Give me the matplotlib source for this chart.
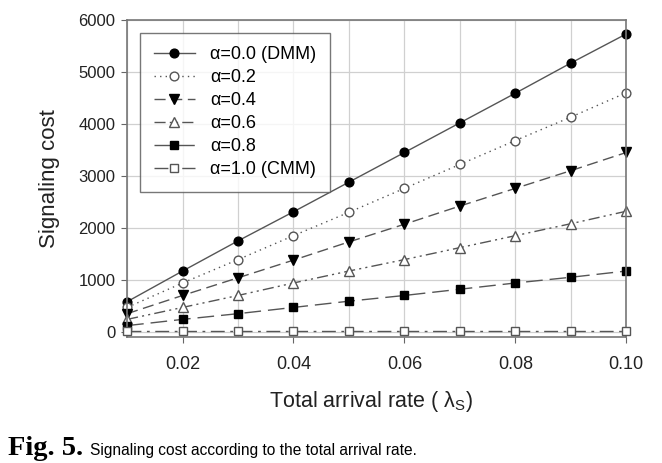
import matplotlib
matplotlib.use("Agg")
import matplotlib.pyplot as plt
from matplotlib.ticker import MultipleLocator

plt.rcParams['font.family'] = ['Liberation Sans', 'DejaVu Sans']
plt.rcParams['mathtext.fontset'] = 'custom'
plt.rcParams['mathtext.rm'] = 'Liberation Sans'
plt.rcParams['mathtext.it'] = 'Liberation Sans:italic'
plt.rcParams['mathtext.sf'] = 'Liberation Sans'

# arrival rate
rate = [0.01, 0.02, 0.03, 0.04, 0.05, 0.06, 0.07, 0.08, 0.09, 0.10]

# signaling cost for each alpha
cost_a00 = [580, 1170, 1750, 2310, 2880, 3450, 4020, 4590, 5170, 5730]
cost_a02 = [470, 940, 1390, 1850, 2300, 2760, 3220, 3680, 4130, 4600]
cost_a04 = [350, 700, 1040, 1380, 1730, 2070, 2420, 2760, 3100, 3450]
cost_a06 = [240, 470, 700, 940, 1170, 1390, 1620, 1850, 2080, 2320]
cost_a08 = [120, 240, 350, 470, 590, 700, 820, 940, 1050, 1170]
cost_a10 = [10, 10, 10, 10, 10, 10, 10, 10, 10, 10]

labels = ['α=0.0 (DMM)', 'α=0.2', 'α=0.4', 'α=0.6', 'α=0.8', 'α=1.0 (CMM)']

fig = plt.figure(figsize=(6.62, 4.63), dpi=100)
ax = fig.add_axes([0.192, 0.272, 0.754, 0.685])

lc = '#555555'
ms = 6.3
ax.plot(rate, cost_a00, color=lc, lw=1, ls='-', marker='o', mfc='black', mec='black', ms=ms, label=labels[0], clip_on=False)
ax.plot(rate, cost_a02, color=lc, lw=1, ls=(0, (1, 3)), marker='o', mfc='white', mec='#555555', ms=ms, label=labels[1], clip_on=False)
ax.plot(rate, cost_a04, color=lc, lw=1, ls=(0, (8, 4)), marker='v', mfc='black', mec='black', ms=ms + 1, label=labels[2], clip_on=False)
ax.plot(rate, cost_a06, color=lc, lw=1, ls=(0, (8, 3, 1.5, 3, 1.5, 3)), marker='^', mfc='white', mec='#555555', ms=ms + 1, label=labels[3], clip_on=False)
ax.plot(rate, cost_a08, color=lc, lw=1, ls=(0, (12, 5)), marker='s', mfc='black', mec='black', ms=ms - 0.5, label=labels[4], clip_on=False)
ax.plot(rate, cost_a10, color=lc, lw=1, ls=(0, (10, 4, 2, 4)), marker='s', mfc='white', mec='#555555', ms=ms - 0.5, label=labels[5], clip_on=False, zorder=5)

ax.set_xlim(0.01, 0.10)
ax.set_ylim(-100, 6000)
ax.xaxis.set_minor_locator(MultipleLocator(0.01))
ax.set_xticks([0.02, 0.04, 0.06, 0.08, 0.10])
ax.set_xticklabels(['0.02', '0.04', '0.06', '0.08', '0.10'])
ax.set_yticks([0, 1000, 2000, 3000, 4000, 5000, 6000])
ax.grid(True, which='both', color='#d0d0d0', lw=0.9)
ax.set_axisbelow(True)
ax.tick_params(which='major', direction='out', length=4, color='#666666', labelcolor='#222222')
ax.tick_params(axis='x', labelsize=13, pad=9.5)
ax.tick_params(axis='y', labelsize=12, pad=4.5)
ax.tick_params(which='minor', length=0)
for s in ax.spines.values():
    s.set_color('#777777')
    s.set_linewidth(1.2)

ax.set_ylabel('Signaling cost', fontsize=16, color='#222222')
ax.yaxis.set_label_coords(-0.134, 0.5)
ax.set_xlabel('Total arrival rate ( λ$_\\mathsf{S}$)', fontsize=15.5, color='#222222')
ax.xaxis.set_label_coords(0.488, -0.163)

leg = ax.legend(loc='upper left', bbox_to_anchor=(0.026, 0.959), fontsize=13, frameon=True,
                fancybox=False, edgecolor='#555555', handlelength=2.3, labelspacing=0.33,
                borderpad=0.75, handletextpad=0.85, borderaxespad=0)
leg.get_frame().set_linewidth(1.0)

fig.text(0.012, 0.017, 'Fig. 5.', fontsize=20.5, fontweight='bold', family='Liberation Serif')
fig.text(0.136, 0.017, 'Signaling cost according to the total arrival rate.', fontsize=11.2)

fig.savefig('out.png', dpi=100)
